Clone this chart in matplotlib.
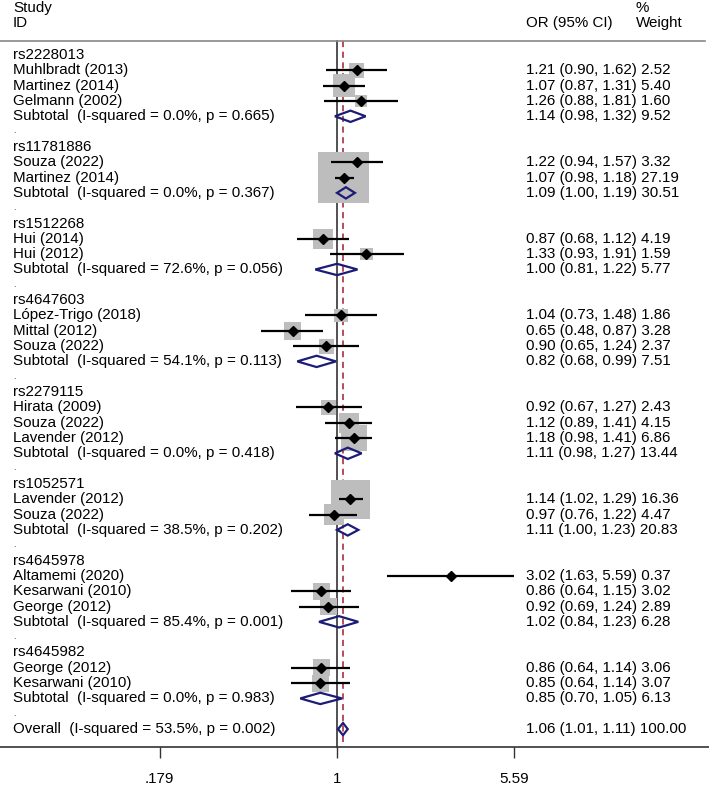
import numpy as np
import matplotlib
matplotlib.use("Agg")
import matplotlib.pyplot as plt
from matplotlib.patches import Polygon
from matplotlib.transforms import blended_transform_factory

plt.rcParams['font.family'] = ['Liberation Sans', 'DejaVu Sans']

groups = ["rs2228013", "rs11781886", "rs1512268", "rs4647603",
          "rs2279115", "rs1052571", "rs4645978", "rs4645982"]

study_names = [
    ["Muhlbradt (2013)", "Martinez (2014)", "Gelmann (2002)"],
    ["Souza (2022)", "Martinez (2014)"],
    ["Hui (2014)", "Hui (2012)"],
    ["López-Trigo (2018)", "Mittal (2012)", "Souza (2022)"],
    ["Hirata (2009)", "Souza (2022)", "Lavender (2012)"],
    ["Lavender (2012)", "Souza (2022)"],
    ["Altamemi (2020)", "Kesarwani (2010)", "George (2012)"],
    ["George (2012)", "Kesarwani (2010)"],
]
study_or = [[1.21, 1.07, 1.26], [1.22, 1.07], [0.87, 1.33], [1.04, 0.65, 0.90],
            [0.92, 1.12, 1.18], [1.14, 0.97], [3.02, 0.86, 0.92], [0.86, 0.85]]
study_lo = [[0.90, 0.87, 0.88], [0.94, 0.98], [0.68, 0.93], [0.73, 0.48, 0.65],
            [0.67, 0.89, 0.98], [1.02, 0.76], [1.63, 0.64, 0.69], [0.64, 0.64]]
study_hi = [[1.62, 1.31, 1.81], [1.57, 1.18], [1.12, 1.91], [1.48, 0.87, 1.24],
            [1.27, 1.41, 1.41], [1.29, 1.22], [5.59, 1.15, 1.24], [1.14, 1.14]]
study_w = [[2.52, 5.40, 1.60], [3.32, 27.19], [4.19, 1.59], [1.86, 3.28, 2.37],
           [2.43, 4.15, 6.86], [16.36, 4.47], [0.37, 3.02, 2.89], [3.06, 3.07]]

sub_i2 = ["0.0%", "0.0%", "72.6%", "54.1%", "0.0%", "38.5%", "85.4%", "0.0%"]
sub_p = ["0.665", "0.367", "0.056", "0.113", "0.418", "0.202", "0.001", "0.983"]
sub_or = [1.14, 1.09, 1.00, 0.82, 1.11, 1.11, 1.02, 0.85]
sub_lo = [0.98, 1.00, 0.81, 0.68, 0.98, 1.00, 0.84, 0.70]
sub_hi = [1.32, 1.19, 1.22, 0.99, 1.27, 1.23, 1.23, 1.05]
sub_w = [9.52, 30.51, 5.77, 7.51, 13.44, 20.83, 6.28, 6.13]

overall_i2, overall_p = "53.5%", "0.002"
overall_or, overall_lo, overall_hi, overall_w = 1.06, 1.01, 1.11, 100.00

tick_vals = [0.179, 1, 5.59]
tick_labels = [".179", "1", "5.59"]

W, H = 709, 792
fig = plt.figure(figsize=(W / 100, H / 100), dpi=100)
ax = fig.add_axes([0, 0, 1, 1])
ax.set_xscale('log')
PX_LN = 103.0
x0px = 337.0
ax.set_xlim(np.exp(-x0px / PX_LN), np.exp((W - x0px) / PX_LN))
row_px = 15.32
y0px = 55.0
ax.set_ylim((H - y0px) / row_px, -y0px / row_px)

FS = 10.9
NAVY = '#1c1c78'
tr_left = blended_transform_factory(ax.transAxes, ax.transData)
XL = 13 / W
XC = 526 / W
XW = 636 / W


def ci_text(o, l, h, w):
    return f"{o:.2f} ({l:.2f}, {h:.2f}) {w:.2f}"


def diamond(y, o, l, h, hh=0.37):
    poly = Polygon([[l, y], [o, y - hh], [h, y], [o, y + hh]], closed=True,
                   fill=False, edgecolor=NAVY, linewidth=1.6, zorder=5)
    ax.add_patch(poly)


row = 0
box_x, box_y, box_s = [], [], []
pts = []
for g in range(len(groups)):
    ax.text(XL, row, groups[g], transform=tr_left, fontsize=FS, va='center', ha='left')
    row += 1
    for k in range(len(study_names[g])):
        o, l, h, w = study_or[g][k], study_lo[g][k], study_hi[g][k], study_w[g][k]
        ax.text(XL, row, study_names[g][k], transform=tr_left, fontsize=FS, va='center', ha='left')
        ax.text(XC, row, ci_text(o, l, h, w), transform=tr_left, fontsize=FS, va='center', ha='left')
        box_x.append(o); box_y.append(row); box_s.append(w)
        pts.append((o, l, h, row))
        row += 1
    ax.text(XL, row, f"Subtotal  (I-squared = {sub_i2[g]}, p = {sub_p[g]})", transform=tr_left,
            fontsize=FS, va='center', ha='left')
    ax.text(XC, row, ci_text(sub_or[g], sub_lo[g], sub_hi[g], sub_w[g]), transform=tr_left,
            fontsize=FS, va='center', ha='left')
    diamond(row, sub_or[g], sub_lo[g], sub_hi[g])
    row += 1
    ax.text(XL, row + 0.12, ".", transform=tr_left, fontsize=6.5, va='baseline', ha='left',
            color='#555555')
    row += 1

overall_row = row
ax.text(XL, overall_row, f"Overall  (I-squared = {overall_i2}, p = {overall_p})", transform=tr_left,
        fontsize=FS, va='center', ha='left')
ax.text(XC, overall_row, ci_text(overall_or, overall_lo, overall_hi, overall_w), transform=tr_left,
        fontsize=FS, va='center', ha='left')
diamond(overall_row, overall_or, overall_lo, overall_hi, hh=0.4)

# boxes (square, area ~ weight)
side_pt = 9.78 * 0.72
ax.scatter(box_x, box_y, s=[(side_pt ** 2) * w for w in box_s], marker='s',
           color='#bdbdbd', edgecolors='none', zorder=2)
for o, l, h, r in pts:
    ax.plot([l, h], [r, r], color='black', lw=1.6, zorder=3, solid_capstyle='butt')
ax.plot([p[0] for p in pts], [p[3] for p in pts], 'D', color='black', markersize=4.6, zorder=4)

# header
header_y = (41 - y0px) / row_px
axis_y = (747 - y0px) / row_px
ax.text(XL, (8 - y0px) / row_px, "Study", transform=tr_left, fontsize=FS, va='center', ha='left')
ax.text(XL, (23 - y0px) / row_px, "ID", transform=tr_left, fontsize=FS, va='center', ha='left')
ax.text(XC, (23 - y0px) / row_px, "OR (95% CI)", transform=tr_left, fontsize=FS, va='center', ha='left')
ax.text(XW, (8 - y0px) / row_px, "%", transform=tr_left, fontsize=FS, va='center', ha='left')
ax.text(XW, (23 - y0px) / row_px, "Weight", transform=tr_left, fontsize=FS, va='center', ha='left')
ax.plot([0, 705 / W], [header_y, header_y], transform=tr_left, color='#888888', lw=1.2)

# null line and overall dashed line
ax.plot([1, 1], [header_y, axis_y], color='#333333', lw=1.2, zorder=1)
ax.plot([overall_or, overall_or], [header_y, axis_y - 0.3], color='#a01c2c', lw=1.1,
        linestyle=(0, (4, 3)), zorder=1)

# axis
for s in ['top', 'left', 'right']:
    ax.spines[s].set_visible(False)
ax.spines['bottom'].set_position(('data', axis_y))
ax.spines['bottom'].set_linewidth(1.2)
ax.spines['bottom'].set_color('#333333')
ax.set_xticks(tick_vals)
ax.set_xticklabels(tick_labels)
ax.xaxis.set_minor_locator(matplotlib.ticker.NullLocator())
ax.tick_params(axis='x', direction='out', length=8, width=1.0, color='#333333',
               labelsize=FS, pad=10)
ax.set_yticks([])

fig.savefig("out.png", dpi=100)
